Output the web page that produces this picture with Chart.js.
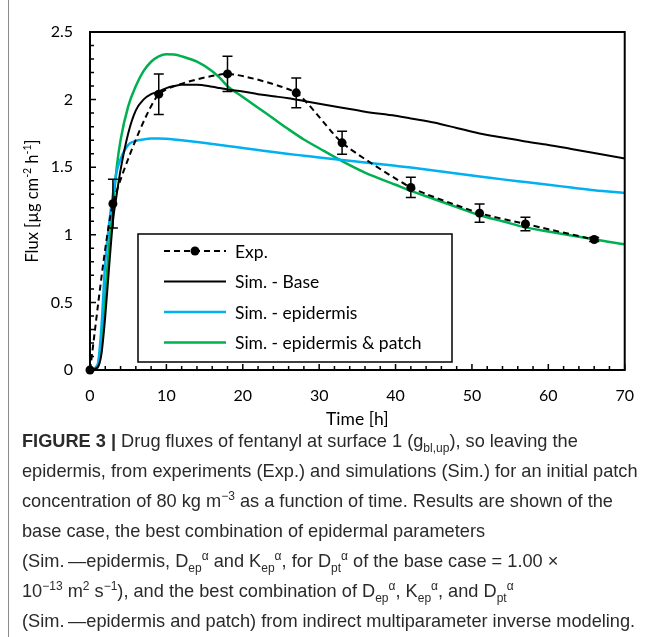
<!DOCTYPE html>
<html>
<head>
<meta charset="utf-8">
<script src="https://cdn.jsdelivr.net/npm/chart.js@4.4.0/dist/chart.umd.min.js"></script>
<style>
  html, body { margin: 0; padding: 0; background: #fff; }
  #wrap { position: relative; width: 650px; height: 637px; overflow: hidden; }
  #frame { position: absolute; left: 8px; top: 0; width: 1px; height: 637px; background: #8c8c8c; }
  #chart { position: absolute; left: 0; top: 0; }
  #caption {
    position: absolute; left: 22px; top: 426px;
    font-family: "Liberation Sans", Arial, sans-serif; font-size: 18.2px; line-height: 30px;
    color: #2a2a2a; white-space: nowrap;
  }
  #caption sub, #caption sup { font-size: 66%; line-height: 0; }
</style>
</head>
<body>
<div id="wrap">
  <div id="frame"></div>
  <canvas id="chart" width="650" height="430"></canvas>
  <div id="caption">
    <b>FIGURE 3 |</b> Drug fluxes of fentanyl at surface 1 (g<sub>bl,up</sub>), so leaving the<br>
    epidermis, from experiments (Exp.) and simulations (Sim.) for an initial patch<br>
    concentration of 80 kg m<sup>−3</sup> as a function of time. Results are shown of the<br>
    base case, the best combination of epidermal parameters<br>
    (Sim.&thinsp;—epidermis, D<sub>ep</sub><sup>α</sup> and K<sub>ep</sub><sup>α</sup>, for D<sub>pt</sub><sup>α</sup> of the base case = 1.00 ×<br>
    10<sup>−13</sup> m<sup>2</sup> s<sup>−1</sup>), and the best combination of D<sub>ep</sub><sup>α</sup>, K<sub>ep</sub><sup>α</sup>, and D<sub>pt</sub><sup>α</sup><br>
    (Sim.&thinsp;—epidermis and patch) from indirect multiparameter inverse modeling.
  </div>
</div>
<script>
// experimental points (h, µg cm-2 h-1) with error bars
const expTime = [0, 3, 9, 18, 27, 33, 42, 51, 57, 66];
const expFlux = [0, 1.23, 2.04, 2.19, 2.05, 1.68, 1.35, 1.16, 1.08, 0.965];
const expErr  = [0, 0.18, 0.15, 0.13, 0.11, 0.085, 0.075, 0.068, 0.05, 0.015];

// simulation curves
const simTime = [0, 1, 1.5, 2, 2.5, 3, 3.5, 4, 5, 6, 7, 8, 9, 10, 11, 12, 14, 16, 17, 18, 20, 22, 24, 26, 28, 30, 33, 36, 40, 42, 45, 48, 51, 54, 57, 60, 63, 66, 70];
const baseFlux = [0, 0.02, 0.12, 0.4, 0.76, 1.1, 1.3, 1.48, 1.75, 1.92, 2.0, 2.04, 2.06, 2.085, 2.1, 2.11, 2.11, 2.095, 2.085, 2.075, 2.06, 2.04, 2.025, 2.01, 1.99, 1.97, 1.94, 1.91, 1.88, 1.86, 1.83, 1.79, 1.75, 1.72, 1.69, 1.665, 1.635, 1.605, 1.565];
const epiFlux = [0, 0.04, 0.32, 0.8, 1.08, 1.3, 1.47, 1.56, 1.665, 1.695, 1.705, 1.712, 1.713, 1.71, 1.705, 1.699, 1.686, 1.672, 1.665, 1.657, 1.642, 1.627, 1.612, 1.598, 1.585, 1.572, 1.553, 1.535, 1.51, 1.497, 1.475, 1.453, 1.432, 1.41, 1.39, 1.37, 1.35, 1.33, 1.31];
const patchFlux = [0, 0.02, 0.2, 0.55, 0.92, 1.2, 1.5, 1.7, 1.95, 2.1, 2.21, 2.28, 2.32, 2.335, 2.333, 2.32, 2.28, 2.21, 2.16, 2.1, 2.02, 1.94, 1.86, 1.78, 1.705, 1.64, 1.545, 1.46, 1.37, 1.325, 1.265, 1.205, 1.145, 1.1, 1.055, 1.025, 0.995, 0.965, 0.93];

const seriesNames = ['Exp.', 'Sim. - Base', 'Sim. - epidermis', 'Sim. - epidermis & patch'];
const xTicks = [0, 10, 20, 30, 40, 50, 60, 70];
const yTicks = [0, 0.5, 1, 1.5, 2, 2.5];

const FONT = 'Lato, "Open Sans", sans-serif';
const pts = (xs, ys) => xs.map((t, i) => ({ x: t, y: ys[i] }));

const decor = {
  id: 'decor',
  afterDatasetsDraw(chart) {
    const { ctx, scales: { x, y } } = chart;
    ctx.save();
    ctx.strokeStyle = '#000';
    ctx.lineWidth = 1.5;
    expTime.forEach((t, i) => {
      if (!expErr[i]) return;
      const px = x.getPixelForValue(t);
      const top = y.getPixelForValue(expFlux[i] + expErr[i]);
      const bot = y.getPixelForValue(expFlux[i] - expErr[i]);
      ctx.beginPath();
      ctx.moveTo(px, top); ctx.lineTo(px, bot);
      ctx.moveTo(px - 5, top); ctx.lineTo(px + 5, top);
      ctx.moveTo(px - 5, bot); ctx.lineTo(px + 5, bot);
      ctx.stroke();
    });
    ctx.restore();
  },
  afterDraw(chart) {
    const { ctx, chartArea: a, scales: { x, y } } = chart;
    ctx.save();

    // plot frame
    ctx.strokeStyle = '#000';
    ctx.lineWidth = 2;
    ctx.strokeRect(a.left, a.top, a.right - a.left, a.bottom - a.top);

    // inside tick marks
    ctx.lineWidth = 1.5;
    ctx.beginPath();
    for (let v = 0; v <= 70; v += 2) {
      const px = x.getPixelForValue(v);
      const len = v % 10 === 0 ? 6 : 4;
      ctx.moveTo(px, a.bottom); ctx.lineTo(px, a.bottom - len);
    }
    for (let k = 0; k <= 25; k++) {
      const py = y.getPixelForValue(k / 10);
      const len = k % 5 === 0 ? 6 : 4;
      ctx.moveTo(a.left, py); ctx.lineTo(a.left + len, py);
    }
    ctx.stroke();

    // legend
    const lx = a.left + 48, ly = a.top + 202, lw = 314, lh = 128;
    ctx.fillStyle = '#fff';
    ctx.fillRect(lx, ly, lw, lh);
    ctx.lineWidth = 1.5;
    ctx.strokeStyle = '#000';
    ctx.strokeRect(lx, ly, lw, lh);
    ctx.font = '17.5px ' + FONT;
    ctx.textBaseline = 'middle';
    chart.data.datasets.forEach((ds, i) => {
      const cy = ly + 17 + i * 30.5;
      ctx.save();
      ctx.strokeStyle = ds.borderColor;
      ctx.lineWidth = ds.borderWidth;
      ctx.setLineDash(ds.borderDash || []);
      ctx.beginPath();
      ctx.moveTo(lx + 26, cy); ctx.lineTo(lx + 88, cy);
      ctx.stroke();
      if (ds.pointRadius) {
        ctx.fillStyle = ds.pointBackgroundColor;
        ctx.beginPath();
        ctx.arc(lx + 57, cy, ds.pointRadius, 0, Math.PI * 2);
        ctx.fill();
      }
      ctx.restore();
      ctx.fillStyle = '#000';
      ctx.fillText(ds.label, lx + 97, cy + 1);
    });

    // axis titles
    ctx.fillStyle = '#000';
    ctx.textBaseline = 'middle';
    ctx.textAlign = 'center';
    ctx.font = '17.5px ' + FONT;
    ctx.fillText('Time [h]', (a.left + a.right) / 2, 419);

    const parts = [['Flux [µg cm', 0], ['-2', 1], [' h', 0], ['-1', 1], [']', 0]];
    const big = '16.5px ' + FONT, small = '10.5px ' + FONT;
    let total = 0;
    parts.forEach(([s, sup]) => { ctx.font = sup ? small : big; total += ctx.measureText(s).width; });
    ctx.translate(33, (a.top + a.bottom) / 2);
    ctx.rotate(-Math.PI / 2);
    ctx.textAlign = 'left';
    let cx = -total / 2;
    parts.forEach(([s, sup]) => {
      ctx.font = sup ? small : big;
      ctx.fillText(s, cx, sup ? -5 : 0);
      cx += ctx.measureText(s).width;
    });
    ctx.restore();
  }
};

new Chart(document.getElementById('chart').getContext('2d'), {
  type: 'scatter',
  data: {
    datasets: [
      {
        label: seriesNames[0],
        data: pts(expTime, expFlux),
        showLine: true,
        borderColor: '#000',
        borderWidth: 2,
        borderDash: [6, 4],
        pointRadius: 4.5,
        pointBackgroundColor: '#000',
        pointBorderWidth: 0,
        tension: 0.18,
        clip: false
      },
      {
        label: seriesNames[1],
        data: pts(simTime, baseFlux),
        showLine: true,
        borderColor: '#000',
        borderWidth: 2,
        pointRadius: 0,
        cubicInterpolationMode: 'monotone'
      },
      {
        label: seriesNames[2],
        data: pts(simTime, epiFlux),
        showLine: true,
        borderColor: '#00b0f0',
        borderWidth: 2.5,
        pointRadius: 0,
        cubicInterpolationMode: 'monotone'
      },
      {
        label: seriesNames[3],
        data: pts(simTime, patchFlux),
        showLine: true,
        borderColor: '#00b050',
        borderWidth: 2.5,
        pointRadius: 0,
        cubicInterpolationMode: 'monotone'
      }
    ]
  },
  options: {
    responsive: false,
    animation: false,
    layout: { padding: { top: 32, right: 13, left: 0, bottom: 0 } },
    plugins: { legend: { display: false }, tooltip: { enabled: false } },
    scales: {
      x: {
        type: 'linear', min: 0, max: 70,
        afterBuildTicks: s => { s.ticks = xTicks.map(v => ({ value: v })); },
        ticks: { padding: 16, color: '#000', font: { family: FONT, size: 16 }, callback: v => String(v) },
        grid: { display: false, drawTicks: false },
        border: { display: false },
        afterFit: s => { s.height = 60; }
      },
      y: {
        type: 'linear', min: 0, max: 2.5,
        afterBuildTicks: s => { s.ticks = yTicks.map(v => ({ value: v })); },
        ticks: { padding: 17, color: '#000', font: { family: FONT, size: 16 }, callback: v => String(v) },
        grid: { display: false, drawTicks: false },
        border: { display: false },
        afterFit: s => { s.width = 90; }
      }
    }
  },
  plugins: [decor]
});
</script>
</body>
</html>
